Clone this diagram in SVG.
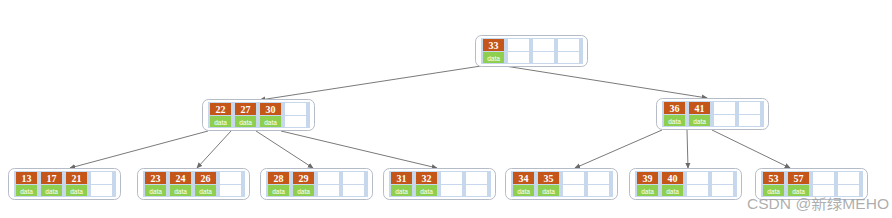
<svg xmlns="http://www.w3.org/2000/svg" xmlns:xlink="http://www.w3.org/1999/xlink" width="892" height="218" viewBox="0 0 892 218">
<style>
.k{fill:#c4561a}
.d{fill:#8fcf50}
.kt{font-family:"Liberation Serif",serif;font-weight:bold;font-size:10px;fill:#fff;text-anchor:middle}
.dt{font-family:"Liberation Sans",sans-serif;font-size:6.5px;fill:#fff;text-anchor:middle}
.c{stroke:#7a7a7a;stroke-width:1;fill:none;marker-end:url(#ah)}
</style>
<defs>
<marker id="ah" viewBox="0 0 8 8" refX="7" refY="4" markerWidth="6" markerHeight="6" orient="auto" markerUnits="userSpaceOnUse">
<path d="M0,0.5 L8,4 L0,7.5 z" fill="#6a6a6a"/>
</marker>
<g id="frame">
<rect x="0.5" y="0.5" width="112" height="31" rx="6" fill="#fff" stroke="#b5bcc8"/>
<rect x="6" y="3" width="102" height="26" fill="#c8d8ec"/>
<rect x="8" y="4" width="21" height="12" fill="#fff"/><rect x="8" y="17" width="21" height="11" fill="#fff"/>
<rect x="33" y="4" width="21" height="12" fill="#fff"/><rect x="33" y="17" width="21" height="11" fill="#fff"/>
<rect x="58" y="4" width="21" height="12" fill="#fff"/><rect x="58" y="17" width="21" height="11" fill="#fff"/>
<rect x="83" y="4" width="21" height="12" fill="#fff"/><rect x="83" y="17" width="21" height="11" fill="#fff"/>
</g>
<g id="e0"><rect class="k" x="8" y="4" width="21" height="12"/><rect class="d" x="8" y="17" width="21" height="11"/><text class="dt" x="18.5" y="25.5">data</text></g>
<g id="e1"><rect class="k" x="33" y="4" width="21" height="12"/><rect class="d" x="33" y="17" width="21" height="11"/><text class="dt" x="43.5" y="25.5">data</text></g>
<g id="e2"><rect class="k" x="58" y="4" width="21" height="12"/><rect class="d" x="58" y="17" width="21" height="11"/><text class="dt" x="68.5" y="25.5">data</text></g>
</defs>
<g id="connectors">
<line class="c" x1="481" y1="66" x2="260" y2="100"/>
<line class="c" x1="505" y1="66" x2="707" y2="98"/>
<line class="c" x1="208" y1="131" x2="70" y2="168"/>
<line class="c" x1="231" y1="131" x2="197" y2="168"/>
<line class="c" x1="256" y1="131" x2="313" y2="168"/>
<line class="c" x1="281" y1="131" x2="437" y2="168"/>
<line class="c" x1="662" y1="130" x2="575" y2="168"/>
<line class="c" x1="687" y1="130" x2="688" y2="168"/>
<line class="c" x1="712" y1="130" x2="790" y2="168"/>
</g>
<g id="root" transform="translate(475,35)">
<use xlink:href="#frame"/><use xlink:href="#e0"/>
<text class="kt" x="18.5" y="14">33</text>
</g>
<g id="n22" transform="translate(202,99)">
<use xlink:href="#frame"/><use xlink:href="#e0"/><use xlink:href="#e1"/><use xlink:href="#e2"/>
<text class="kt" x="18.5" y="14">22</text><text class="kt" x="43.5" y="14">27</text><text class="kt" x="68.5" y="14">30</text>
</g>
<g id="n36" transform="translate(656,98)">
<use xlink:href="#frame"/><use xlink:href="#e0"/><use xlink:href="#e1"/>
<text class="kt" x="18.5" y="14">36</text><text class="kt" x="43.5" y="14">41</text>
</g>
<g id="n13" transform="translate(8,168)">
<use xlink:href="#frame"/><use xlink:href="#e0"/><use xlink:href="#e1"/><use xlink:href="#e2"/>
<text class="kt" x="18.5" y="14">13</text><text class="kt" x="43.5" y="14">17</text><text class="kt" x="68.5" y="14">21</text>
</g>
<g id="n23" transform="translate(137,168)">
<use xlink:href="#frame"/><use xlink:href="#e0"/><use xlink:href="#e1"/><use xlink:href="#e2"/>
<text class="kt" x="18.5" y="14">23</text><text class="kt" x="43.5" y="14">24</text><text class="kt" x="68.5" y="14">26</text>
</g>
<g id="n28" transform="translate(260,168)">
<use xlink:href="#frame"/><use xlink:href="#e0"/><use xlink:href="#e1"/>
<text class="kt" x="18.5" y="14">28</text><text class="kt" x="43.5" y="14">29</text>
</g>
<g id="n31" transform="translate(383,168)">
<use xlink:href="#frame"/><use xlink:href="#e0"/><use xlink:href="#e1"/>
<text class="kt" x="18.5" y="14">31</text><text class="kt" x="43.5" y="14">32</text>
</g>
<g id="n34" transform="translate(505,168)">
<use xlink:href="#frame"/><use xlink:href="#e0"/><use xlink:href="#e1"/>
<text class="kt" x="18.5" y="14">34</text><text class="kt" x="43.5" y="14">35</text>
</g>
<g id="n39" transform="translate(629,168)">
<use xlink:href="#frame"/><use xlink:href="#e0"/><use xlink:href="#e1"/>
<text class="kt" x="18.5" y="14">39</text><text class="kt" x="43.5" y="14">40</text>
</g>
<g id="n53" transform="translate(755,168)">
<use xlink:href="#frame"/><use xlink:href="#e0"/><use xlink:href="#e1"/>
<text class="kt" x="18.5" y="14">53</text><text class="kt" x="43.5" y="14">57</text>
</g>
<text x="747" y="209" font-family="'Liberation Sans','Noto Sans CJK SC',sans-serif" font-size="14" fill="#a0a0a0" fill-opacity="0.85" textLength="142" lengthAdjust="spacingAndGlyphs">CSDN @新绿MEHO</text>
</svg>
